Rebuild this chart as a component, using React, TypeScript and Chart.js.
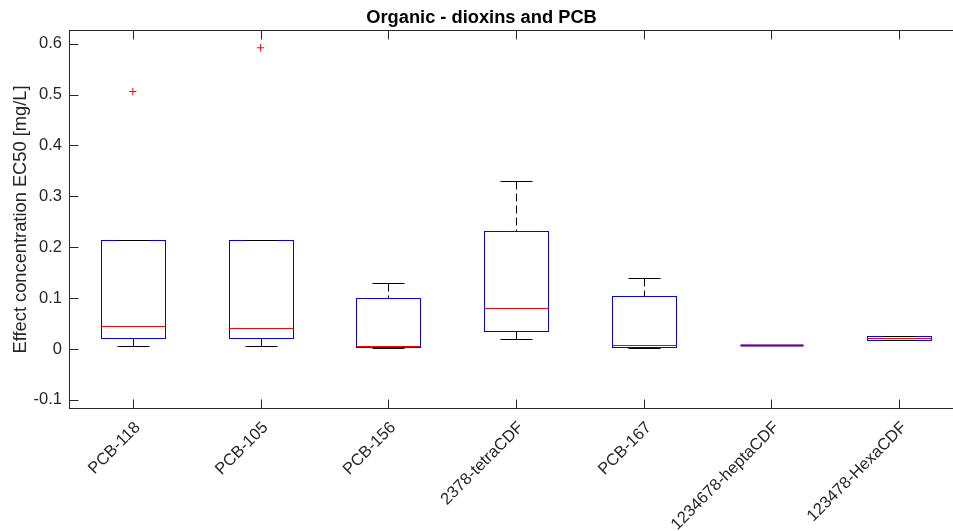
import React, { useEffect, useRef } from 'react';
import { Chart, registerables } from 'chart.js';

Chart.register(...registerables);

const categories = ['PCB-118', 'PCB-105', 'PCB-156', '2378-tetraCDF', 'PCB-167', '1234678-heptaCDF', '123478-HexaCDF'];
const lowerWhisker = [0.006, 0.005, 0.0025, 0.0196, 0.0025, 0.007, 0.018];
const q1 = [0.022, 0.022, 0.0045, 0.0353, 0.0045, 0.007, 0.018];
const median = [0.0457, 0.042, 0.0068, 0.0797, 0.0072, 0.007, 0.0216];
const q3 = [0.214, 0.215, 0.1, 0.2326, 0.105, 0.007, 0.0255];
const upperWhisker = [0.214, 0.215, 0.13, 0.33, 0.139, 0.007, 0.0255];
const outlierCategories = ['PCB-118', 'PCB-105'];
const outlierValues = [0.506, 0.592];
const yTicks = [-0.1, 0, 0.1, 0.2, 0.3, 0.4, 0.5, 0.6];
const yMin = -0.118;
const yMax = 0.627;

const chartTitle = 'Organic - dioxins and PCB';
const yTitle = 'Effect concentration EC50 [mg/L]';

const FONT = "'Liberation Sans', Arial, Helvetica, sans-serif";
const AXIS = '#262626';

const boxParts = {
  id: 'boxParts',
  afterDatasetsDraw(chart: any) {
    const { ctx } = chart;
    const x = chart.scales.x;
    const y = chart.scales.y;
    const slot = x.getPixelForValue(1) - x.getPixelForValue(0);
    const py = (v: number) => Math.round(y.getPixelForValue(v)) + 0.5;
    const line = (x1: number, y1: number, x2: number, y2: number) => {
      ctx.beginPath();
      ctx.moveTo(x1, y1);
      ctx.lineTo(x2, y2);
      ctx.stroke();
    };
    ctx.save();
    ctx.lineWidth = 1;
    categories.forEach((_, i) => {
      const c = x.getPixelForValue(i);
      const cx = Math.round(c) + 0.5;
      const capL = Math.round(c - slot * 0.125) + 0.5;
      const capR = Math.round(c + slot * 0.125) + 0.5;
      const boxL = Math.round(c - slot * 0.25) + 0.5;
      const boxR = Math.round(c + slot * 0.25) + 0.5;
      // whiskers
      ctx.strokeStyle = '#000000';
      ctx.lineWidth = 1;
      ctx.setLineDash([8, 4]);
      if (upperWhisker[i] > q3[i]) line(cx, py(upperWhisker[i]), cx, py(q3[i]));
      if (lowerWhisker[i] < q1[i]) line(cx, py(lowerWhisker[i]), cx, py(q1[i]));
      ctx.setLineDash([]);
      // box
      ctx.strokeStyle = '#0000ff';
      if (q3[i] > q1[i]) {
        ctx.strokeRect(boxL, py(q3[i]), boxR - boxL, py(q1[i]) - py(q3[i]));
      } else {
        ctx.lineWidth = 2;
        line(boxL, py(q1[i]), boxR, py(q1[i]));
      }
      // caps
      ctx.strokeStyle = '#000000';
      ctx.lineWidth = 1;
      if (upperWhisker[i] > q3[i] || q3[i] > q1[i]) {
        line(capL, py(upperWhisker[i]), capR, py(upperWhisker[i]));
        line(capL, py(lowerWhisker[i]), capR, py(lowerWhisker[i]));
      }
      // median
      ctx.strokeStyle = '#ff0000';
      if (q3[i] > q1[i]) {
        line(boxL, py(median[i]), boxR, py(median[i]));
      } else {
        ctx.globalAlpha = 0.5;
        ctx.lineWidth = 2;
        line(boxL, py(median[i]), boxR, py(median[i]));
        ctx.globalAlpha = 1;
        ctx.lineWidth = 1;
      }
    });
    ctx.restore();
  },
};

const frame = {
  id: 'frame',
  afterDraw(chart: any) {
    const { ctx, chartArea } = chart;
    const x = chart.scales.x;
    const y = chart.scales.y;
    const l = Math.round(chartArea.left) + 0.5;
    const r = Math.round(chartArea.right) - 0.5;
    const t = Math.round(chartArea.top) + 0.5;
    const b = Math.round(chartArea.bottom) - 0.5;
    const tick = 9;
    ctx.save();
    ctx.strokeStyle = AXIS;
    ctx.lineWidth = 1;
    ctx.strokeRect(l, t, r - l, b - t);
    ctx.beginPath();
    categories.forEach((_, i) => {
      const cx = Math.round(x.getPixelForValue(i)) + 0.5;
      ctx.moveTo(cx, b);
      ctx.lineTo(cx, b - tick);
      ctx.moveTo(cx, t);
      ctx.lineTo(cx, t + tick);
    });
    yTicks.forEach((v) => {
      const yy = Math.round(y.getPixelForValue(v)) + 0.5;
      ctx.moveTo(l, yy);
      ctx.lineTo(l + tick, yy);
      ctx.moveTo(r, yy);
      ctx.lineTo(r - tick, yy);
    });
    ctx.stroke();
    ctx.restore();
  },
};

export default function App() {
  const ref = useRef<HTMLCanvasElement | null>(null);

  useEffect(() => {
    document.body.style.margin = '0';
    document.body.style.overflow = 'hidden';
    const canvas = ref.current;
    if (!canvas) return;
    const chart = new Chart(canvas, {
      type: 'bar',
      data: {
        labels: categories,
        datasets: [
          {
            type: 'scatter',
            label: 'Outliers',
            data: outlierCategories.map((c, i) => ({ x: c, y: outlierValues[i] })) as any,
            pointStyle: 'cross',
            pointRadius: 3.6,
            pointBorderColor: '#ff0000',
            pointBorderWidth: 1,
            showLine: false,
          } as any,
        ],
      },
      options: {
        responsive: false,
        animation: false,
        events: [],
        layout: { padding: { left: 0, right: 69, top: 0, bottom: 0 } },
        plugins: {
          legend: { display: false },
          tooltip: { enabled: false },
          title: {
            display: true,
            text: chartTitle,
            color: '#000000',
            font: { family: FONT, size: 18.3, weight: 'bold', lineHeight: 1.2 },
            padding: { top: 7, bottom: 1 },
          },
        },
        scales: {
          x: {
            type: 'category',
            offset: true,
            grid: { display: false, drawTicks: false },
            border: { display: false },
            ticks: {
              autoSkip: false,
              minRotation: 45,
              maxRotation: 45,
              padding: 9,
              labelOffset: 5,
              color: AXIS,
              font: { family: FONT, size: 16.5 },
            },
            afterFit: (s: any) => {
              s.height = 122;
            },
          },
          y: {
            type: 'linear',
            min: yMin,
            max: yMax,
            grid: { display: false, drawTicks: false },
            border: { display: false },
            afterBuildTicks: (s: any) => {
              s.ticks = yTicks.map((v) => ({ value: v }));
            },
            ticks: {
              padding: 7,
              color: AXIS,
              font: { family: FONT, size: 16.5 },
              callback: (v: any) => String(v),
            },
            title: {
              display: true,
              text: yTitle,
              color: AXIS,
              font: { family: FONT, size: 18.3, lineHeight: 1.2 },
              padding: { top: 10, bottom: 0 },
            },
            afterFit: (s: any) => {
              s.width = 69;
            },
          },
        },
      },
      plugins: [boxParts, frame],
    });
    return () => chart.destroy();
  }, []);

  return (
    <div style={{ width: 953, height: 531, overflow: 'hidden', background: '#ffffff' }}>
      <canvas ref={ref} width={1032} height={531} style={{ display: 'block' }} />
    </div>
  );
}
